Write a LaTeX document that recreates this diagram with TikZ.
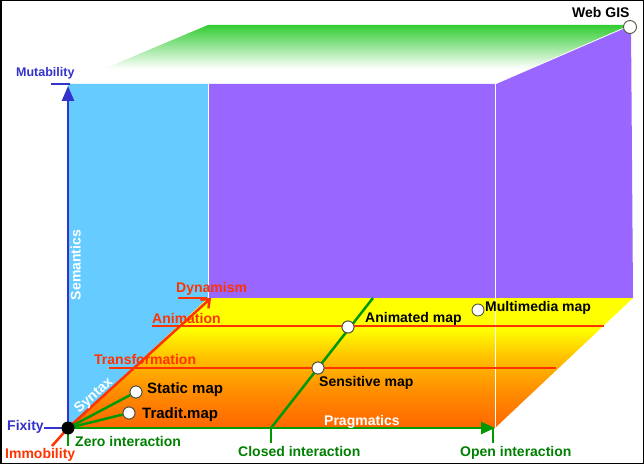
\documentclass[tikz,border=0pt]{standalone}
\usepackage{fontspec}
\setmainfont{Liberation Sans}
\usetikzlibrary{arrows.meta}
\definecolor{cface}{HTML}{66CCFF}
\definecolor{cpurp}{HTML}{9966FF}
\definecolor{tgreen}{HTML}{33CC33}
\definecolor{fyel}{HTML}{FFFF00}
\definecolor{forg1}{HTML}{FFC000}
\definecolor{forg2}{HTML}{FF9000}
\definecolor{forg3}{HTML}{FF6600}
\definecolor{cred}{HTML}{FF3300}
\definecolor{cblue}{HTML}{3333CC}
\definecolor{cgreen}{HTML}{009900}
\definecolor{tgrn}{HTML}{008000}
\definecolor{cdot}{HTML}{555544}
\pgfdeclareverticalshading{floorshade}{100bp}{color(0bp)=(forg3); color(25bp)=(forg3); color(40bp)=(forg2); color(52bp)=(forg1); color(63bp)=(fyel); color(75bp)=(fyel); color(100bp)=(fyel)}
\pgfdeclareverticalshading{topshade}{100bp}{color(0bp)=(white); color(25bp)=(white); color(38bp)=(white); color(75bp)=(tgreen); color(100bp)=(tgreen)}
\begin{document}
\begin{tikzpicture}[x=1bp,y=-1bp,
  lbl/.style={font=\fontsize{14bp}{16bp}\selectfont\bfseries, inner sep=0pt, anchor=base west},
  mappt/.style={circle, draw=cdot, fill=white, line width=0.9bp, minimum size=12bp, inner sep=0pt},
  redln/.style={cred, line width=2.5bp},
  grnln/.style={cgreen, line width=2.5bp},
  bluln/.style={cblue, line width=2.5bp},
  edge/.style={white, line width=0.8bp}]
\useasboundingbox (0,0) rectangle (644,464);
\fill[white] (0,0) rectangle (644,464);
% faces
\shade[shading=topshade] (68,84) -- (495,84) -- (631,25) -- (208,25) -- cycle;
\fill[cface] (68,84) -- (208,84) -- (208,298) -- (68,428) -- cycle;
\fill[cpurp] (208,84) -- (495,84) -- (631,25) -- (633,298) -- (208,298) -- cycle;
\shade[shading=floorshade] (68,428) -- (495,428) -- (633,298) -- (208,298) -- cycle;
\draw[edge] (208,84) -- (208,298);
\draw[edge] (495,84) -- (495,428);
\draw[edge] (495,84) -- (631,25);
% coordinates
\coordinate (O) at (68,428);
\coordinate (Mtop) at (68,86);
\coordinate (Dyn) at (211,298);
\coordinate (Prag) at (495,428);
\coordinate (Ca) at (271,428);
\coordinate (Cb) at (373,298);
\coordinate (an1) at (152,326);
\coordinate (an2) at (604,326);
\coordinate (tr1) at (109,368);
\coordinate (tr2) at (556,368);
\coordinate (dy1) at (178,298);
\coordinate (dy2) at (207,298);
\coordinate (im) at (52,446);
\coordinate (fx) at (44,428);
\coordinate (mu1) at (51,84);
\coordinate (mu2) at (70,84);
\coordinate (z1) at (68,446);
\coordinate (c1) at (271,443);
\coordinate (o0) at (493,428);
\coordinate (o1) at (493,443);
% map points
\node[mappt] (stat) at (136,392) {};
\node[mappt] (trad) at (129,413) {};
\node[mappt] (sens) at (318,368) {};
\node[mappt] (anim) at (348,327) {};
\node[mappt] (multi) at (478,310) {};
\node[mappt, minimum size=13bp] (web) at (630,27) {};
% red lines
\draw[redln] (an1) -- (an2);
\draw[redln] (tr1) -- (tr2);
\draw[redln] (dy1) -- (dy2);
\draw[redln, -{Straight Barb[length=7bp,width=12bp]}] (O) -- (Dyn);
\draw[redln] (O) -- (im);
% green lines
\draw[grnln, -{Triangle[length=14bp,width=12bp]}] (O) -- (Prag);
\draw[grnln] (Ca) -- (Cb);
\draw[grnln] (O) -- (z1);
\draw[grnln] (Ca) -- (c1);
\draw[grnln] (o0) -- (o1);
\draw[grnln] (O) -- (stat);
\draw[grnln] (O) -- (trad);
% blue lines
\draw[bluln, -{Triangle[length=15bp,width=12bp]}] (O) -- (Mtop);
\draw[bluln] (fx) -- (O);
\draw[bluln] (mu1) -- (mu2);
% origin dot
\node[circle, fill=black, minimum size=13bp, inner sep=0pt] (Odot) at (O) {};
% redraw points on top
\node[mappt] at (stat) {};
\node[mappt] at (trad) {};
\node[mappt] at (sens) {};
\node[mappt] at (anim) {};
% labels
\node[lbl] (lweb) at (572,18) {Web GIS};
\node[lbl, text=cblue, font=\fontsize{12.5bp}{14bp}\selectfont\bfseries] (lmut) at (16,77) {Mutability};
\node[lbl, text=cblue] (lfix) at (7,430) {Fixity};
\node[lbl, text=cred] (limm) at (5,458) {Immobility};
\node[lbl, text=tgrn] (lzero) at (75,446) {Zero interaction};
\node[lbl, text=tgrn] (lclosed) at (238,456) {Closed interaction};
\node[lbl, text=tgrn] (lopen) at (460,456) {Open interaction};
\node[lbl, text=white] (lprag) at (324,425) {Pragmatics};
\node[lbl, text=cred] (ldyn) at (176,293) {Dynamism};
\node[lbl, text=cred] (lanim) at (152,323) {Animation};
\node[lbl, text=cred] (ltrans) at (94,364) {Transformation};
\node[lbl, font=\fontsize{15bp}{16bp}\selectfont\bfseries] (lstat) at (147,393) {Static map};
\node[lbl, font=\fontsize{15bp}{16bp}\selectfont\bfseries] (ltrad) at (142,418) {Tradit.map};
\node[lbl] (lanimm) at (365,322) {Animated map};
\node[lbl] (lmulti) at (485,312) {Multimedia map};
\node[lbl] (lsens) at (319,386) {Sensitive map};
\node[font=\fontsize{14bp}{16bp}\selectfont\bfseries, text=white, inner sep=0pt, rotate=90] (lsem) at (75.5,265) {Semantics};
\node[font=\fontsize{14bp}{16bp}\selectfont\bfseries, text=white, inner sep=0pt, rotate=42] (lsyn) at (94,396) {Syntax};
% frame
\draw[black, line width=1.5bp] (0.75,0.75) rectangle (643.25,463.25);
\end{tikzpicture}
\end{document}
